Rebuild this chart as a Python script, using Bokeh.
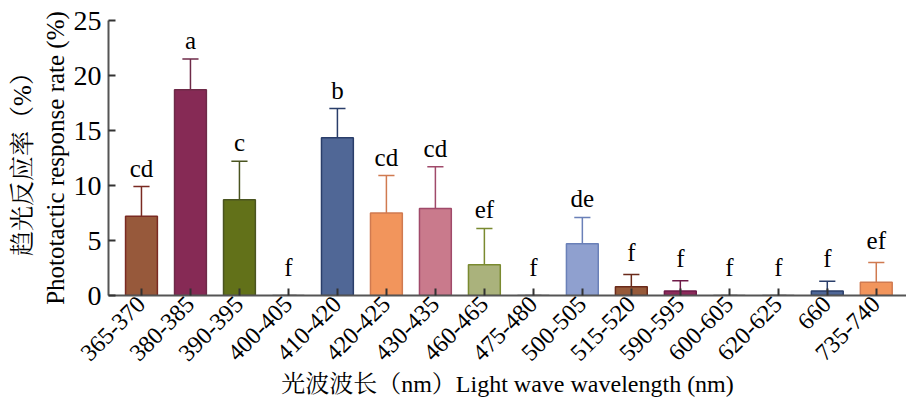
import math
from bokeh.plotting import figure
from bokeh.models import ColumnDataSource, FixedTicker, Range1d
from bokeh.core.properties import value
from bokeh.embed import file_html
from bokeh.resources import INLINE

categories = ["365-370", "380-385", "390-395", "400-405", "410-420", "420-425",
              "430-435", "460-465", "475-480", "500-505", "515-520", "590-595",
              "600-605", "620-625", "660", "735-740"]
means = [7.2, 18.7, 8.7, 0, 14.35, 7.5, 7.9, 2.8, 0, 4.7, 0.8, 0.4, 0, 0, 0.4, 1.2]
upper = [9.9, 21.5, 12.2, 0, 17.0, 10.9, 11.7, 6.1, 0, 7.1, 1.9, 1.35, 0, 0, 1.3, 3.0]
letters = ["cd", "a", "c", "f", "b", "cd", "cd", "ef", "f", "de", "f", "f", "f", "f", "f", "ef"]
fills = ["#97593b", "#862a55", "#627119", "#ffffff", "#506796", "#f2955c", "#c97a8c", "#aab27c",
         "#ffffff", "#8fa0cf", "#965a3a", "#8b2a5a", "#ffffff", "#ffffff", "#4f6797", "#f2955c"]
edges = ["#7a2a22", "#6e2a48", "#4a5420", "#555555", "#2a3e6a", "#d07a50", "#a04a6a", "#7a8a30",
         "#555555", "#6a80b8", "#6a2a1a", "#6e1a48", "#555555", "#555555", "#2a3e6a", "#d07a50"]

x = list(range(len(categories)))
SERIF = "Liberation Serif"
LABEL_FONT = "'Liberation Serif', 'Noto Serif CJK SC', serif"

label_off = [-15 if u == 0 else (-9 if u < 4 else -5) for u in upper]

src = ColumnDataSource(dict(x=x, mean=means, upper=upper, letters=letters,
                            fill=fills, edge=edges, off=label_off,
                            xl=[i - 0.165 for i in x], xr=[i + 0.165 for i in x]))

p = figure(width=906, height=403, output_backend="svg", toolbar_location=None,
           x_range=Range1d(-0.673, 15.617), y_range=Range1d(0, 25),
           min_border_left=108, min_border_right=0, min_border_top=20, min_border_bottom=108)
p.outline_line_color = None
p.grid.grid_line_color = None
p.background_fill_color = "white"

# error bars
p.segment(x0="x", y0="mean", x1="x", y1="upper", source=src, line_color="edge", line_width=1.5)
p.segment(x0="xl", y0="upper", x1="xr", y1="upper", source=src, line_color="edge", line_width=1.5)

p.vbar(x="x", top="mean", bottom=0, width=0.65, source=src, fill_color="fill",
       line_color="edge", line_width=1.5)

p.text(x="x", y="upper", text="letters", source=src, text_align="center",
       text_baseline="bottom", y_offset="off", text_font=value("Liberation Serif"),
       text_font_size="25px", text_color="black")

p.xaxis.ticker = FixedTicker(ticks=x)
p.xaxis.major_label_overrides = {i: c for i, c in enumerate(categories)}
p.xaxis.major_label_orientation = math.pi / 4
p.yaxis.ticker = FixedTicker(ticks=[0, 5, 10, 15, 20, 25])

for ax in (p.xaxis, p.yaxis):
    ax.axis_line_color = "#555555"
    ax.axis_line_width = 2
    ax.major_tick_line_color = "#333333"
    ax.major_tick_line_width = 2
    ax.major_tick_in = 7
    ax.major_tick_out = 0
    ax.minor_tick_line_color = None
    ax.major_label_text_font = SERIF
    ax.major_label_text_color = "black"
    ax.axis_label_text_font = LABEL_FONT
    ax.axis_label_text_font_style = "normal"
    ax.axis_label_text_color = "black"

p.xaxis.major_label_text_font_size = "24px"
p.xaxis.major_label_standoff = 5
p.yaxis.major_label_text_font_size = "28px"
p.yaxis.major_label_standoff = 7
p.xaxis.axis_label = "光波波长（nm）Light wave wavelength (nm)"
p.xaxis.axis_label_text_font_size = "24px"
p.xaxis.axis_label_standoff = 0
p.yaxis.axis_label = "趋光反应率（%）\nPhototactic response rate (%)"
p.yaxis.axis_label_text_font_size = "25px"
p.yaxis.axis_label_standoff = 2

open("out.html", "w").write(file_html(p, INLINE))
